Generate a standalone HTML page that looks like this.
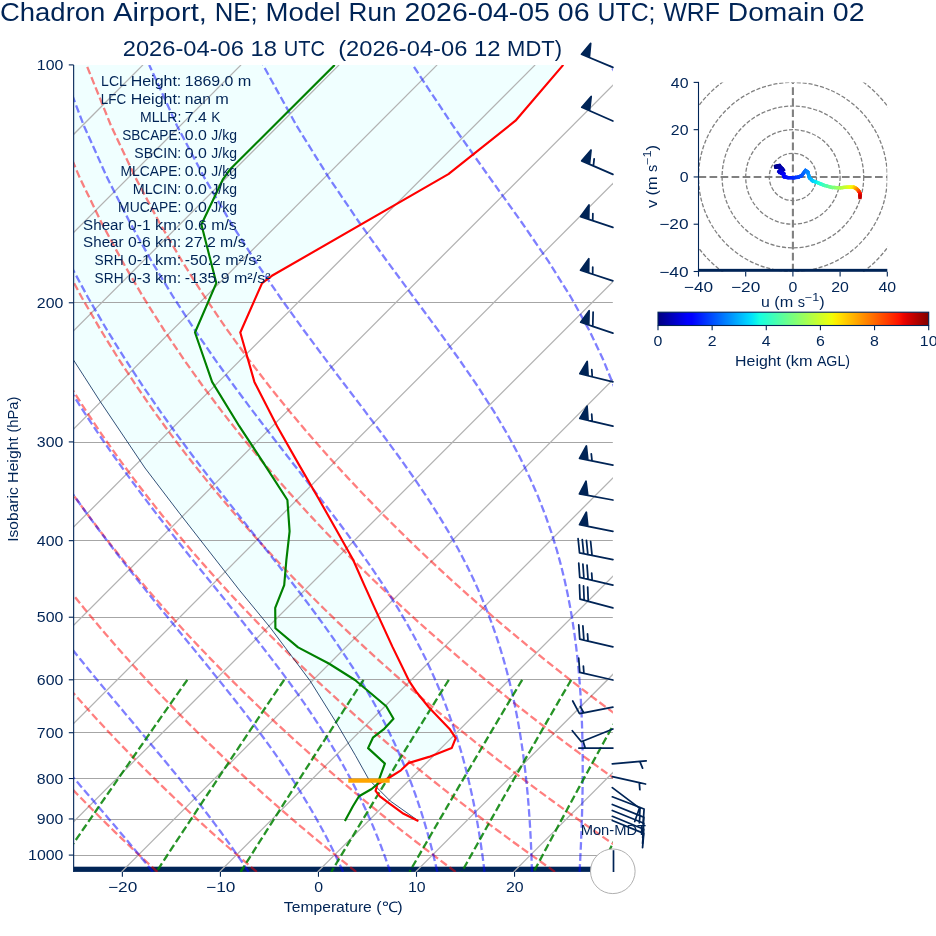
<!DOCTYPE html>
<html><head><meta charset="utf-8"><title>Skew-T</title>
<style>html,body{margin:0;padding:0;background:#fff}svg{display:block;will-change:transform}text{font-family:"Liberation Sans",sans-serif;white-space:pre}</style>
</head><body>
<svg width="936" height="936" viewBox="0 0 936 936">
<rect width="936" height="936" fill="#fff"/>
<defs><clipPath id="ax"><rect x="73.65" y="64.9" width="539.25" height="807.00"/></clipPath>
<clipPath id="hodo"><rect x="698.5" y="82.4" width="188.8" height="189.4"/></clipPath>
</defs>
<g clip-path="url(#ax)">
<path d="M73.65,64.90 L563.30,64.90 L515.50,120.70 L448.40,174.10 L271.90,275.80 L262.10,283.10 L240.30,332.50 L254.40,381.90 L277.10,426.20 L299.20,465.10 L319.40,500.00 L337.10,531.30 L353.10,559.70 L364.30,585.10 L374.60,607.90 L392.50,646.90 L409.00,680.80 L417.00,692.80 L429.00,707.50 L449.60,728.90 L455.70,738.20 L451.70,748.10 L429.00,756.90 L408.40,763.10 L400.90,770.30 L390.30,777.00 L377.40,784.20 L375.60,786.30 L368.90,779.60 L355.50,755.60 L336.80,723.50 L310.10,680.80 L270.10,627.40 L264.00,620.00 L239.30,590.00 L180.00,513.90 L145.00,468.00 L100.00,401.20 L84.60,377.20 L73.65,360.20Z" fill="#f0ffff"/>
<rect x="73.10000000000001" y="866.7" width="539.80" height="5.2" fill="#002456"/>
<line x1="73.65" x2="612.9" y1="302.50" y2="302.50" stroke="#a6a6a6" stroke-width="1"/>
<line x1="73.65" x2="612.9" y1="442.50" y2="442.50" stroke="#a6a6a6" stroke-width="1"/>
<line x1="73.65" x2="612.9" y1="540.50" y2="540.50" stroke="#a6a6a6" stroke-width="1"/>
<line x1="73.65" x2="612.9" y1="617.50" y2="617.50" stroke="#a6a6a6" stroke-width="1"/>
<line x1="73.65" x2="612.9" y1="679.50" y2="679.50" stroke="#a6a6a6" stroke-width="1"/>
<line x1="73.65" x2="612.9" y1="732.50" y2="732.50" stroke="#a6a6a6" stroke-width="1"/>
<line x1="73.65" x2="612.9" y1="778.50" y2="778.50" stroke="#a6a6a6" stroke-width="1"/>
<line x1="73.65" x2="612.9" y1="819.50" y2="819.50" stroke="#a6a6a6" stroke-width="1"/>
<line x1="73.65" x2="612.9" y1="855.50" y2="855.50" stroke="#a6a6a6" stroke-width="1"/>
<line x1="-957.03" y1="871.9" x2="-151.13" y2="64.9" stroke="#b2b2b2" stroke-width="1.25"/>
<line x1="-858.98" y1="871.9" x2="-53.08" y2="64.9" stroke="#b2b2b2" stroke-width="1.25"/>
<line x1="-760.94" y1="871.9" x2="44.96" y2="64.9" stroke="#b2b2b2" stroke-width="1.25"/>
<line x1="-662.89" y1="871.9" x2="143.01" y2="64.9" stroke="#b2b2b2" stroke-width="1.25"/>
<line x1="-564.85" y1="871.9" x2="241.05" y2="64.9" stroke="#b2b2b2" stroke-width="1.25"/>
<line x1="-466.80" y1="871.9" x2="339.10" y2="64.9" stroke="#b2b2b2" stroke-width="1.25"/>
<line x1="-368.75" y1="871.9" x2="437.15" y2="64.9" stroke="#b2b2b2" stroke-width="1.25"/>
<line x1="-270.71" y1="871.9" x2="535.19" y2="64.9" stroke="#b2b2b2" stroke-width="1.25"/>
<line x1="-172.66" y1="871.9" x2="633.24" y2="64.9" stroke="#b2b2b2" stroke-width="1.25"/>
<line x1="-74.62" y1="871.9" x2="731.28" y2="64.9" stroke="#b2b2b2" stroke-width="1.25"/>
<line x1="23.43" y1="871.9" x2="829.33" y2="64.9" stroke="#b2b2b2" stroke-width="1.25"/>
<line x1="121.47" y1="871.9" x2="927.37" y2="64.9" stroke="#b2b2b2" stroke-width="1.25"/>
<line x1="219.52" y1="871.9" x2="1025.42" y2="64.9" stroke="#b2b2b2" stroke-width="1.25"/>
<line x1="317.56" y1="871.9" x2="1123.46" y2="64.9" stroke="#b2b2b2" stroke-width="1.25"/>
<line x1="415.61" y1="871.9" x2="1221.51" y2="64.9" stroke="#b2b2b2" stroke-width="1.25"/>
<line x1="513.65" y1="871.9" x2="1319.55" y2="64.9" stroke="#b2b2b2" stroke-width="1.25"/>
<line x1="611.70" y1="871.9" x2="1417.60" y2="64.9" stroke="#b2b2b2" stroke-width="1.25"/>
<path d="M-41.47,871.84 L-47.40,865.45 L-53.37,858.93 L-59.40,852.29 L-65.46,845.51 L-71.58,838.60 L-77.75,831.55 L-83.96,824.35 L-90.23,816.99 L-96.55,809.47 L-102.92,801.79 L-109.34,793.93 L-115.82,785.88 L-122.35,777.65 L-128.94,769.20 L-135.59,760.55 L-142.29,751.67 L-149.05,742.56 L-155.88,733.20 L-162.76,723.57 L-169.70,713.67 L-176.71,703.47 L-183.78,692.96 L-190.91,682.12 L-198.11,670.93 L-205.37,659.35 L-212.69,647.38 L-220.07,634.97 L-227.52,622.09 L-235.03,608.72 L-242.60,594.80 L-250.23,580.29 L-257.91,565.14 L-265.64,549.29 L-273.41,532.68 L-281.22,515.22 L-289.05,496.82 L-296.89,477.38 L-304.73,456.77 L-312.54,434.85 L-320.29,411.42 L-327.93,386.29 L-335.43,359.16 L-342.69,329.70 L-349.62,297.48 L-356.07,261.92 L-361.82,222.23 L-366.56,177.36 L-369.76,125.71 L-370.59,64.90" fill="none" stroke="#ff0000" stroke-opacity="0.5" stroke-width="2.3" stroke-dasharray="7.7 3.33"/>
<path d="M57.96,871.84 L51.50,865.45 L44.99,858.93 L38.42,852.29 L31.80,845.51 L25.13,838.60 L18.39,831.55 L11.60,824.35 L4.75,816.99 L-2.16,809.47 L-9.13,801.79 L-16.16,793.93 L-23.26,785.88 L-30.43,777.65 L-37.66,769.20 L-44.96,760.55 L-52.33,751.67 L-59.78,742.56 L-67.29,733.20 L-74.88,723.57 L-82.55,713.67 L-90.29,703.47 L-98.11,692.96 L-106.02,682.12 L-114.00,670.93 L-122.06,659.35 L-130.21,647.38 L-138.45,634.97 L-146.77,622.09 L-155.17,608.72 L-163.66,594.80 L-172.23,580.29 L-180.89,565.14 L-189.63,549.29 L-198.45,532.68 L-207.34,515.22 L-216.29,496.82 L-225.30,477.38 L-234.36,456.77 L-243.44,434.85 L-252.52,411.42 L-261.57,386.29 L-270.55,359.16 L-279.38,329.70 L-287.99,297.48 L-296.24,261.92 L-303.93,222.23 L-310.79,177.36 L-316.34,125.71 L-319.81,64.90" fill="none" stroke="#ff0000" stroke-opacity="0.5" stroke-width="2.3" stroke-dasharray="7.7 3.33"/>
<path d="M157.38,871.84 L150.39,865.45 L143.34,858.93 L136.24,852.29 L129.07,845.51 L121.83,838.60 L114.54,831.55 L107.17,824.35 L99.74,816.99 L92.23,809.47 L84.66,801.79 L77.01,793.93 L69.29,785.88 L61.49,777.65 L53.62,769.20 L45.66,760.55 L37.62,751.67 L29.50,742.56 L21.29,733.20 L12.99,723.57 L4.61,713.67 L-3.87,703.47 L-12.45,692.96 L-21.12,682.12 L-29.89,670.93 L-38.76,659.35 L-47.74,647.38 L-56.82,634.97 L-66.01,622.09 L-75.31,608.72 L-84.72,594.80 L-94.24,580.29 L-103.87,565.14 L-113.62,549.29 L-123.48,532.68 L-133.45,515.22 L-143.53,496.82 L-153.71,477.38 L-163.98,456.77 L-174.34,434.85 L-184.76,411.42 L-195.21,386.29 L-205.67,359.16 L-216.07,329.70 L-226.36,297.48 L-236.40,261.92 L-246.04,222.23 L-255.02,177.36 L-262.92,125.71 L-269.03,64.90" fill="none" stroke="#ff0000" stroke-opacity="0.5" stroke-width="2.3" stroke-dasharray="7.7 3.33"/>
<path d="M256.80,871.84 L249.28,865.45 L241.70,858.93 L234.05,852.29 L226.33,845.51 L218.54,838.60 L210.68,831.55 L202.74,824.35 L194.72,816.99 L186.63,809.47 L178.45,801.79 L170.19,793.93 L161.85,785.88 L153.42,777.65 L144.90,769.20 L136.28,760.55 L127.58,751.67 L118.78,742.56 L109.87,733.20 L100.87,723.57 L91.76,713.67 L82.54,703.47 L73.22,692.96 L63.77,682.12 L54.22,670.93 L44.54,659.35 L34.74,647.38 L24.81,634.97 L14.75,622.09 L4.55,608.72 L-5.78,594.80 L-16.25,580.29 L-26.86,565.14 L-37.62,549.29 L-48.52,532.68 L-59.57,515.22 L-70.77,496.82 L-82.12,477.38 L-93.61,456.77 L-105.24,434.85 L-116.99,411.42 L-128.85,386.29 L-140.79,359.16 L-152.77,329.70 L-164.72,297.48 L-176.57,261.92 L-188.15,222.23 L-199.26,177.36 L-209.50,125.71 L-218.25,64.90" fill="none" stroke="#ff0000" stroke-opacity="0.5" stroke-width="2.3" stroke-dasharray="7.7 3.33"/>
<path d="M356.22,871.84 L348.18,865.45 L340.06,858.93 L331.87,852.29 L323.60,845.51 L315.25,838.60 L306.82,831.55 L298.30,824.35 L289.70,816.99 L281.02,809.47 L272.24,801.79 L263.37,793.93 L254.40,785.88 L245.34,777.65 L236.17,769.20 L226.91,760.55 L217.53,751.67 L208.05,742.56 L198.46,733.20 L188.75,723.57 L178.91,713.67 L168.96,703.47 L158.88,692.96 L148.67,682.12 L138.32,670.93 L127.84,659.35 L117.21,647.38 L106.43,634.97 L95.50,622.09 L84.42,608.72 L73.17,594.80 L61.75,580.29 L50.16,565.14 L38.39,549.29 L26.44,532.68 L14.31,515.22 L1.98,496.82 L-10.53,477.38 L-23.24,456.77 L-36.14,434.85 L-49.23,411.42 L-62.49,386.29 L-75.91,359.16 L-89.46,329.70 L-103.09,297.48 L-116.73,261.92 L-130.27,222.23 L-143.49,177.36 L-156.08,125.71 L-167.46,64.90" fill="none" stroke="#ff0000" stroke-opacity="0.5" stroke-width="2.3" stroke-dasharray="7.7 3.33"/>
<path d="M455.64,871.84 L447.07,865.45 L438.42,858.93 L429.69,852.29 L420.86,845.51 L411.96,838.60 L402.96,831.55 L393.87,824.35 L384.69,816.99 L375.41,809.47 L366.03,801.79 L356.54,793.93 L346.96,785.88 L337.26,777.65 L327.45,769.20 L317.53,760.55 L307.49,751.67 L297.33,742.56 L287.04,733.20 L276.62,723.57 L266.07,713.67 L255.38,703.47 L244.55,692.96 L233.57,682.12 L222.43,670.93 L211.14,659.35 L199.68,647.38 L188.06,634.97 L176.26,622.09 L164.28,608.72 L152.11,594.80 L139.74,580.29 L127.18,565.14 L114.40,549.29 L101.41,532.68 L88.19,515.22 L74.74,496.82 L61.06,477.38 L47.13,456.77 L32.96,434.85 L18.54,411.42 L3.87,386.29 L-11.03,359.16 L-26.15,329.70 L-41.46,297.48 L-56.90,261.92 L-72.38,222.23 L-87.72,177.36 L-102.66,125.71 L-116.68,64.90" fill="none" stroke="#ff0000" stroke-opacity="0.5" stroke-width="2.3" stroke-dasharray="7.7 3.33"/>
<path d="M555.06,871.84 L545.97,865.45 L536.78,858.93 L527.50,852.29 L518.13,845.51 L508.67,838.60 L499.10,831.55 L489.44,824.35 L479.67,816.99 L469.80,809.47 L459.82,801.79 L449.72,793.93 L439.51,785.88 L429.18,777.65 L418.73,769.20 L408.15,760.55 L397.45,751.67 L386.60,742.56 L375.62,733.20 L364.50,723.57 L353.22,713.67 L341.80,703.47 L330.21,692.96 L318.46,682.12 L306.54,670.93 L294.44,659.35 L282.16,647.38 L269.69,634.97 L257.02,622.09 L244.14,608.72 L231.05,594.80 L217.74,580.29 L204.19,565.14 L190.41,549.29 L176.37,532.68 L162.07,515.22 L147.50,496.82 L132.65,477.38 L117.50,456.77 L102.06,434.85 L86.30,411.42 L70.24,386.29 L53.85,359.16 L37.16,329.70 L20.17,297.48 L2.93,261.92 L-14.49,222.23 L-31.96,177.36 L-49.24,125.71 L-65.90,64.90" fill="none" stroke="#ff0000" stroke-opacity="0.5" stroke-width="2.3" stroke-dasharray="7.7 3.33"/>
<path d="M654.49,871.84 L644.86,865.45 L635.14,858.93 L625.32,852.29 L615.40,845.51 L605.37,838.60 L595.24,831.55 L585.01,824.35 L574.65,816.99 L564.19,809.47 L553.61,801.79 L542.90,793.93 L532.07,785.88 L521.11,777.65 L510.01,769.20 L498.78,760.55 L487.40,751.67 L475.88,742.56 L464.21,733.20 L452.37,723.57 L440.38,713.67 L428.21,703.47 L415.88,692.96 L403.36,682.12 L390.65,670.93 L377.74,659.35 L364.63,647.38 L351.31,634.97 L337.77,622.09 L324.00,608.72 L309.99,594.80 L295.73,580.29 L281.21,565.14 L266.41,549.29 L251.33,532.68 L235.95,515.22 L220.26,496.82 L204.24,477.38 L187.88,456.77 L171.16,434.85 L154.07,411.42 L136.60,386.29 L118.73,359.16 L100.47,329.70 L81.80,297.48 L62.77,261.92 L43.40,222.23 L23.81,177.36 L4.18,125.71 L-15.12,64.90" fill="none" stroke="#ff0000" stroke-opacity="0.5" stroke-width="2.3" stroke-dasharray="7.7 3.33"/>
<path d="M753.91,871.84 L743.75,865.45 L733.50,858.93 L723.13,852.29 L712.66,845.51 L702.08,838.60 L691.39,831.55 L680.57,824.35 L669.64,816.99 L658.58,809.47 L647.39,801.79 L636.08,793.93 L624.62,785.88 L613.03,777.65 L601.29,769.20 L589.40,760.55 L577.36,751.67 L565.16,742.56 L552.79,733.20 L540.25,723.57 L527.53,713.67 L514.63,703.47 L501.54,692.96 L488.25,682.12 L474.75,670.93 L461.04,659.35 L447.11,647.38 L432.94,634.97 L418.53,622.09 L403.87,608.72 L388.94,594.80 L373.73,580.29 L358.23,565.14 L342.42,549.29 L326.30,532.68 L309.83,515.22 L293.02,496.82 L275.83,477.38 L258.25,456.77 L240.26,434.85 L221.83,411.42 L202.96,386.29 L183.61,359.16 L163.77,329.70 L143.44,297.48 L122.60,261.92 L101.29,222.23 L79.58,177.36 L57.59,125.71 L35.67,64.90" fill="none" stroke="#ff0000" stroke-opacity="0.5" stroke-width="2.3" stroke-dasharray="7.7 3.33"/>
<path d="M853.33,871.84 L842.65,865.45 L831.85,858.93 L820.95,852.29 L809.93,845.51 L798.79,838.60 L787.53,831.55 L776.14,824.35 L764.62,816.99 L752.97,809.47 L741.18,801.79 L729.25,793.93 L717.18,785.88 L704.95,777.65 L692.57,769.20 L680.03,760.55 L667.32,751.67 L654.43,742.56 L641.37,733.20 L628.13,723.57 L614.69,713.67 L601.05,703.47 L587.21,692.96 L573.15,682.12 L558.86,670.93 L544.34,659.35 L529.58,647.38 L514.57,634.97 L499.29,622.09 L483.73,608.72 L467.88,594.80 L451.72,580.29 L435.24,565.14 L418.43,549.29 L401.26,532.68 L383.72,515.22 L365.78,496.82 L347.42,477.38 L328.62,456.77 L309.36,434.85 L289.60,411.42 L269.32,386.29 L248.49,359.16 L227.08,329.70 L205.07,297.48 L182.44,261.92 L159.18,222.23 L135.34,177.36 L111.01,125.71 L86.45,64.90" fill="none" stroke="#ff0000" stroke-opacity="0.5" stroke-width="2.3" stroke-dasharray="7.7 3.33"/>
<path d="M-42.35,871.84 L-47.91,865.45 L-53.55,858.93 L-59.27,852.29 L-65.06,845.51 L-70.92,838.60 L-76.85,831.55 L-82.86,824.35 L-88.94,816.99 L-95.09,809.47 L-101.31,801.79 L-107.60,793.93 L-113.96,785.88 L-120.39,777.65 L-126.90,769.20 L-133.47,760.55 L-140.11,751.67 L-146.83,742.56 L-153.61,733.20 L-160.46,723.57 L-167.38,713.67 L-174.37,703.47 L-181.43,692.96 L-188.56,682.12 L-195.76,670.93 L-203.02,659.35 L-210.36,647.38 L-217.76,634.97 L-225.22,622.09 L-232.75,608.72 L-240.34,594.80 L-247.99,580.29 L-255.69,565.14 L-263.45,549.29 L-271.25,532.68 L-279.09,515.22 L-286.95,496.82 L-294.83,477.38 L-302.70,456.77 L-310.55,434.85 L-318.33,411.42 L-326.02,386.29 L-333.56,359.16 L-340.87,329.70 L-347.84,297.48 L-354.35,261.92 L-360.15,222.23 L-364.95,177.36 L-368.22,125.71 L-369.13,64.90" fill="none" stroke="#0000ff" stroke-opacity="0.5" stroke-width="2.3" stroke-dasharray="7.7 3.33"/>
<path d="M55.83,871.84 L50.24,865.45 L44.54,858.93 L38.73,852.29 L32.81,845.51 L26.79,838.60 L20.65,831.55 L14.40,824.35 L8.05,816.99 L1.59,809.47 L-4.98,801.79 L-11.65,793.93 L-18.43,785.88 L-25.31,777.65 L-32.30,769.20 L-39.38,760.55 L-46.57,751.67 L-53.86,742.56 L-61.25,733.20 L-68.73,723.57 L-76.32,713.67 L-84.00,703.47 L-91.78,692.96 L-99.66,682.12 L-107.63,670.93 L-115.71,659.35 L-123.87,647.38 L-132.13,634.97 L-140.49,622.09 L-148.94,608.72 L-157.48,594.80 L-166.11,580.29 L-174.84,565.14 L-183.65,549.29 L-192.54,532.68 L-201.51,515.22 L-210.55,496.82 L-219.65,477.38 L-228.80,456.77 L-237.98,434.85 L-247.17,411.42 L-256.33,386.29 L-265.42,359.16 L-274.38,329.70 L-283.12,297.48 L-291.51,261.92 L-299.36,222.23 L-306.39,177.36 L-312.13,125.71 L-315.80,64.90" fill="none" stroke="#0000ff" stroke-opacity="0.5" stroke-width="2.3" stroke-dasharray="7.7 3.33"/>
<path d="M152.88,871.84 L147.71,865.45 L142.39,858.93 L136.91,852.29 L131.29,845.51 L125.50,838.60 L119.56,831.55 L113.46,824.35 L107.20,816.99 L100.78,809.47 L94.21,801.79 L87.47,793.93 L80.57,785.88 L73.51,777.65 L66.30,769.20 L58.93,760.55 L51.40,751.67 L43.72,742.56 L35.89,733.20 L27.91,723.57 L19.78,713.67 L11.51,703.47 L3.09,692.96 L-5.47,682.12 L-14.18,670.93 L-23.02,659.35 L-32.00,647.38 L-41.12,634.97 L-50.37,622.09 L-59.76,608.72 L-69.29,594.80 L-78.94,580.29 L-88.73,565.14 L-98.64,549.29 L-108.69,532.68 L-118.86,515.22 L-129.14,496.82 L-139.55,477.38 L-150.06,456.77 L-160.66,434.85 L-171.34,411.42 L-182.07,386.29 L-192.82,359.16 L-203.54,329.70 L-214.15,297.48 L-224.55,261.92 L-234.58,222.23 L-243.98,177.36 L-252.34,125.71 L-258.97,64.90" fill="none" stroke="#0000ff" stroke-opacity="0.5" stroke-width="2.3" stroke-dasharray="7.7 3.33"/>
<path d="M248.54,871.84 L244.31,865.45 L239.91,858.93 L235.33,852.29 L230.58,845.51 L225.63,838.60 L220.49,831.55 L215.14,824.35 L209.59,816.99 L203.83,809.47 L197.85,801.79 L191.65,793.93 L185.22,785.88 L178.57,777.65 L171.67,769.20 L164.55,760.55 L157.18,751.67 L149.58,742.56 L141.74,733.20 L133.66,723.57 L125.35,713.67 L116.80,703.47 L108.02,692.96 L99.01,682.12 L89.77,670.93 L80.32,659.35 L70.64,647.38 L60.75,634.97 L50.65,622.09 L40.34,608.72 L29.83,594.80 L19.12,580.29 L8.21,565.14 L-2.89,549.29 L-14.18,532.68 L-25.66,515.22 L-37.33,496.82 L-49.18,477.38 L-61.21,456.77 L-73.41,434.85 L-85.76,411.42 L-98.26,386.29 L-110.88,359.16 L-123.58,329.70 L-136.31,297.48 L-148.98,261.92 L-161.47,222.23 L-173.55,177.36 L-184.88,125.71 L-194.83,64.90" fill="none" stroke="#0000ff" stroke-opacity="0.5" stroke-width="2.3" stroke-dasharray="7.7 3.33"/>
<path d="M343.09,871.84 L340.19,865.45 L337.16,858.93 L333.96,852.29 L330.61,845.51 L327.08,838.60 L323.37,831.55 L319.47,824.35 L315.36,816.99 L311.03,809.47 L306.47,801.79 L301.67,793.93 L296.62,785.88 L291.29,777.65 L285.69,769.20 L279.79,760.55 L273.58,751.67 L267.06,742.56 L260.20,733.20 L252.99,723.57 L245.44,713.67 L237.52,703.47 L229.23,692.96 L220.57,682.12 L211.53,670.93 L202.11,659.35 L192.32,647.38 L182.15,634.97 L171.60,622.09 L160.70,608.72 L149.44,594.80 L137.82,580.29 L125.87,565.14 L113.59,549.29 L100.99,532.68 L88.07,515.22 L74.84,496.82 L61.32,477.38 L47.51,456.77 L33.41,434.85 L19.03,411.42 L4.39,386.29 L-10.50,359.16 L-25.62,329.70 L-40.94,297.48 L-56.39,261.92 L-71.88,222.23 L-87.25,177.36 L-102.21,125.71 L-116.25,64.90" fill="none" stroke="#0000ff" stroke-opacity="0.5" stroke-width="2.3" stroke-dasharray="7.7 3.33"/>
<path d="M390.17,871.84 L388.01,865.45 L385.73,858.93 L383.32,852.29 L380.77,845.51 L378.08,838.60 L375.24,831.55 L372.22,824.35 L369.03,816.99 L365.65,809.47 L362.06,801.79 L358.25,793.93 L354.21,785.88 L349.92,777.65 L345.36,769.20 L340.51,760.55 L335.36,751.67 L329.89,742.56 L324.07,733.20 L317.88,723.57 L311.32,713.67 L304.34,703.47 L296.95,692.96 L289.11,682.12 L280.81,670.93 L272.04,659.35 L262.79,647.38 L253.04,634.97 L242.80,622.09 L232.07,608.72 L220.83,594.80 L209.11,580.29 L196.91,565.14 L184.23,549.29 L171.11,532.68 L157.54,515.22 L143.55,496.82 L129.15,477.38 L114.34,456.77 L99.16,434.85 L83.60,411.42 L67.67,386.29 L51.40,359.16 L34.80,329.70 L17.90,297.48 L0.73,261.92 L-16.61,222.23 L-34.00,177.36 L-51.20,125.71 L-67.76,64.90" fill="none" stroke="#0000ff" stroke-opacity="0.5" stroke-width="2.3" stroke-dasharray="7.7 3.33"/>
<path d="M437.29,871.84 L435.84,865.45 L434.31,858.93 L432.67,852.29 L430.94,845.51 L429.09,838.60 L427.13,831.55 L425.03,824.35 L422.80,816.99 L420.41,809.47 L417.87,801.79 L415.14,793.93 L412.22,785.88 L409.10,777.65 L405.75,769.20 L402.16,760.55 L398.31,751.67 L394.17,742.56 L389.71,733.20 L384.92,723.57 L379.77,713.67 L374.22,703.47 L368.25,692.96 L361.82,682.12 L354.90,670.93 L347.46,659.35 L339.46,647.38 L330.88,634.97 L321.68,622.09 L311.84,608.72 L301.34,594.80 L290.17,580.29 L278.32,565.14 L265.79,549.29 L252.58,532.68 L238.72,515.22 L224.21,496.82 L209.09,477.38 L193.37,456.77 L177.09,434.85 L160.27,411.42 L142.92,386.29 L125.08,359.16 L106.76,329.70 L87.99,297.48 L68.81,261.92 L49.26,222.23 L29.45,177.36 L9.59,125.71 L-9.97,64.90" fill="none" stroke="#0000ff" stroke-opacity="0.5" stroke-width="2.3" stroke-dasharray="7.7 3.33"/>
<path d="M484.52,871.84 L483.74,865.45 L482.91,858.93 L482.01,852.29 L481.04,845.51 L479.99,838.60 L478.87,831.55 L477.65,824.35 L476.34,816.99 L474.93,809.47 L473.40,801.79 L471.74,793.93 L469.95,785.88 L468.01,777.65 L465.91,769.20 L463.62,760.55 L461.14,751.67 L458.45,742.56 L455.51,733.20 L452.31,723.57 L448.82,713.67 L445.01,703.47 L440.85,692.96 L436.29,682.12 L431.30,670.93 L425.84,659.35 L419.84,647.38 L413.27,634.97 L406.07,622.09 L398.17,608.72 L389.52,594.80 L380.06,580.29 L369.74,565.14 L358.51,549.29 L346.33,532.68 L333.18,515.22 L319.04,496.82 L303.93,477.38 L287.85,456.77 L270.86,434.85 L252.97,411.42 L234.26,386.29 L214.75,359.16 L194.51,329.70 L173.57,297.48 L151.97,261.92 L129.76,222.23 L107.02,177.36 L83.89,125.71 L60.67,64.90" fill="none" stroke="#0000ff" stroke-opacity="0.5" stroke-width="2.3" stroke-dasharray="7.7 3.33"/>
<path d="M531.94,871.84 L531.76,865.45 L531.56,858.93 L531.31,852.29 L531.03,845.51 L530.70,838.60 L530.33,831.55 L529.91,824.35 L529.43,816.99 L528.89,809.47 L528.29,801.79 L527.61,793.93 L526.84,785.88 L525.99,777.65 L525.04,769.20 L523.98,760.55 L522.79,751.67 L521.47,742.56 L519.99,733.20 L518.34,723.57 L516.51,713.67 L514.46,703.47 L512.17,692.96 L509.60,682.12 L506.74,670.93 L503.52,659.35 L499.92,647.38 L495.87,634.97 L491.33,622.09 L486.20,608.72 L480.43,594.80 L473.93,580.29 L466.59,565.14 L458.31,549.29 L448.98,532.68 L438.48,515.22 L426.70,496.82 L413.54,477.38 L398.91,456.77 L382.77,434.85 L365.11,411.42 L345.95,386.29 L325.35,359.16 L303.41,329.70 L280.22,297.48 L255.90,261.92 L230.52,222.23 L204.19,177.36 L177.01,125.71 L149.20,64.90" fill="none" stroke="#0000ff" stroke-opacity="0.5" stroke-width="2.3" stroke-dasharray="7.7 3.33"/>
<path d="M579.58,871.84 L579.92,865.45 L580.25,858.93 L580.57,852.29 L580.88,845.51 L581.17,838.60 L581.45,831.55 L581.71,824.35 L581.94,816.99 L582.15,809.47 L582.34,801.79 L582.49,793.93 L582.61,785.88 L582.68,777.65 L582.71,769.20 L582.70,760.55 L582.62,751.67 L582.48,742.56 L582.26,733.20 L581.96,723.57 L581.56,713.67 L581.05,703.47 L580.42,692.96 L579.64,682.12 L578.70,670.93 L577.57,659.35 L576.21,647.38 L574.60,634.97 L572.69,622.09 L570.44,608.72 L567.78,594.80 L564.65,580.29 L560.95,565.14 L556.59,549.29 L551.44,532.68 L545.36,515.22 L538.17,496.82 L529.67,477.38 L519.63,456.77 L507.79,434.85 L493.88,411.42 L477.68,386.29 L458.98,359.16 L437.69,329.70 L413.84,297.48 L387.57,261.92 L359.11,222.23 L328.69,177.36 L296.56,125.71 L262.96,64.90" fill="none" stroke="#0000ff" stroke-opacity="0.5" stroke-width="2.3" stroke-dasharray="7.7 3.33"/>
<path d="M627.45,871.84 L628.23,865.45 L629.01,858.93 L629.80,852.29 L630.59,845.51 L631.40,838.60 L632.21,831.55 L633.02,824.35 L633.84,816.99 L634.67,809.47 L635.49,801.79 L636.32,793.93 L637.15,785.88 L637.98,777.65 L638.81,769.20 L639.63,760.55 L640.45,751.67 L641.26,742.56 L642.05,733.20 L642.82,723.57 L643.57,713.67 L644.29,703.47 L644.98,692.96 L645.63,682.12 L646.22,670.93 L646.75,659.35 L647.20,647.38 L647.56,634.97 L647.80,622.09 L647.90,608.72 L647.84,594.80 L647.57,580.29 L647.05,565.14 L646.22,549.29 L645.02,532.68 L643.34,515.22 L641.08,496.82 L638.09,477.38 L634.16,456.77 L629.06,434.85 L622.46,411.42 L613.95,386.29 L602.98,359.16 L588.93,329.70 L571.09,297.48 L548.79,261.92 L521.59,222.23 L489.49,177.36 L452.94,125.71 L412.64,64.90" fill="none" stroke="#0000ff" stroke-opacity="0.5" stroke-width="2.3" stroke-dasharray="7.7 3.33"/>
<path d="M675.55,871.84 L676.67,865.45 L677.81,858.93 L678.98,852.29 L680.17,845.51 L681.38,838.60 L682.62,831.55 L683.88,824.35 L685.16,816.99 L686.47,809.47 L687.81,801.79 L689.17,793.93 L690.56,785.88 L691.97,777.65 L693.42,769.20 L694.89,760.55 L696.39,751.67 L697.93,742.56 L699.49,733.20 L701.08,723.57 L702.70,713.67 L704.35,703.47 L706.03,692.96 L707.73,682.12 L709.46,670.93 L711.22,659.35 L713.00,647.38 L714.80,634.97 L716.61,622.09 L718.42,608.72 L720.24,594.80 L722.04,580.29 L723.82,565.14 L725.56,549.29 L727.23,532.68 L728.79,515.22 L730.22,496.82 L731.44,477.38 L732.38,456.77 L732.94,434.85 L732.96,411.42 L732.22,386.29 L730.43,359.16 L727.12,329.70 L721.62,297.48 L712.94,261.92 L699.56,222.23 L679.43,177.36 L650.13,125.71 L609.97,64.90" fill="none" stroke="#0000ff" stroke-opacity="0.5" stroke-width="2.3" stroke-dasharray="7.7 3.33"/>
<path d="M723.84,871.84 L725.24,865.45 L726.67,858.93 L728.13,852.29 L729.62,845.51 L731.15,838.60 L732.72,831.55 L734.32,824.35 L735.96,816.99 L737.64,809.47 L739.37,801.79 L741.13,793.93 L742.95,785.88 L744.81,777.65 L746.72,769.20 L748.68,760.55 L750.69,751.67 L752.76,742.56 L754.89,733.20 L757.08,723.57 L759.34,713.67 L761.66,703.47 L764.06,692.96 L766.53,682.12 L769.07,670.93 L771.70,659.35 L774.41,647.38 L777.22,634.97 L780.12,622.09 L783.11,608.72 L786.21,594.80 L789.42,580.29 L792.74,565.14 L796.18,549.29 L799.73,532.68 L803.41,515.22 L807.22,496.82 L811.14,477.38 L815.18,456.77 L819.32,434.85 L823.54,411.42 L827.80,386.29 L832.03,359.16 L836.11,329.70 L839.87,297.48 L842.97,261.92 L844.84,222.23 L844.44,177.36 L839.75,125.71 L826.75,64.90" fill="none" stroke="#0000ff" stroke-opacity="0.5" stroke-width="2.3" stroke-dasharray="7.7 3.33"/>
<path d="M772.31,871.84 L773.92,865.45 L775.56,858.93 L777.25,852.29 L778.97,845.51 L780.74,838.60 L782.55,831.55 L784.41,824.35 L786.32,816.99 L788.28,809.47 L790.29,801.79 L792.36,793.93 L794.48,785.88 L796.67,777.65 L798.92,769.20 L801.23,760.55 L803.62,751.67 L806.08,742.56 L808.62,733.20 L811.24,723.57 L813.95,713.67 L816.75,703.47 L819.65,692.96 L822.66,682.12 L825.77,670.93 L829.00,659.35 L832.36,647.38 L835.85,634.97 L839.48,622.09 L843.27,608.72 L847.23,594.80 L851.36,580.29 L855.69,565.14 L860.22,549.29 L864.99,532.68 L870.00,515.22 L875.28,496.82 L880.86,477.38 L886.77,456.77 L893.04,434.85 L899.71,411.42 L906.81,386.29 L914.41,359.16 L922.54,329.70 L931.27,297.48 L940.64,261.92 L950.67,222.23 L961.34,177.36 L972.43,125.71 L983.30,64.90" fill="none" stroke="#0000ff" stroke-opacity="0.5" stroke-width="2.3" stroke-dasharray="7.7 3.33"/>
<path d="M820.93,871.84 L822.69,865.45 L824.49,858.93 L826.34,852.29 L828.23,845.51 L830.17,838.60 L832.17,831.55 L834.21,824.35 L836.31,816.99 L838.47,809.47 L840.69,801.79 L842.97,793.93 L845.31,785.88 L847.73,777.65 L850.22,769.20 L852.79,760.55 L855.44,751.67 L858.17,742.56 L861.00,733.20 L863.92,723.57 L866.94,713.67 L870.07,703.47 L873.32,692.96 L876.68,682.12 L880.18,670.93 L883.82,659.35 L887.61,647.38 L891.56,634.97 L895.69,622.09 L900.00,608.72 L904.51,594.80 L909.25,580.29 L914.23,565.14 L919.47,549.29 L924.99,532.68 L930.84,515.22 L937.04,496.82 L943.63,477.38 L950.67,456.77 L958.19,434.85 L966.28,411.42 L975.02,386.29 L984.49,359.16 L994.83,329.70 L1006.18,297.48 L1018.74,261.92 L1032.78,222.23 L1048.62,177.36 L1066.73,125.71 L1087.75,64.90" fill="none" stroke="#0000ff" stroke-opacity="0.5" stroke-width="2.3" stroke-dasharray="7.7 3.33"/>
<path d="M187.34,679.80 L183.68,685.01 L180.07,690.14 L176.52,695.20 L173.02,700.19 L169.58,705.10 L166.18,709.95 L162.84,714.72 L159.54,719.44 L156.29,724.08 L153.08,728.67 L149.92,733.20 L146.80,737.66 L143.72,742.07 L140.69,746.43 L137.69,750.72 L134.73,754.97 L131.81,759.16 L128.93,763.31 L126.08,767.40 L123.27,771.45 L120.49,775.44 L117.74,779.40 L115.03,783.30 L112.35,787.17 L109.70,790.99 L107.08,794.76 L104.49,798.50 L101.93,802.20 L99.40,805.86 L96.89,809.47 L94.42,813.06 L91.97,816.60 L89.54,820.11 L87.14,823.58 L84.77,827.02 L82.42,830.42 L80.10,833.79 L77.80,837.13 L75.52,840.43 L73.26,843.71 L71.03,846.95 L68.82,850.16 L66.63,853.34 L64.46,856.50 L62.31,859.62 L60.18,862.72 L58.08,865.79 L55.99,868.83 L53.92,871.84" fill="none" stroke="#008000" stroke-opacity="0.85" stroke-width="2.3" stroke-dasharray="7.7 3.33"/>
<path d="M284.17,679.80 L280.65,685.01 L277.19,690.14 L273.78,695.20 L270.43,700.19 L267.12,705.10 L263.86,709.95 L260.66,714.72 L257.49,719.44 L254.38,724.08 L251.30,728.67 L248.27,733.20 L245.28,737.66 L242.33,742.07 L239.42,746.43 L236.55,750.72 L233.71,754.97 L230.92,759.16 L228.15,763.31 L225.43,767.40 L222.73,771.45 L220.07,775.44 L217.44,779.40 L214.84,783.30 L212.28,787.17 L209.74,790.99 L207.23,794.76 L204.76,798.50 L202.31,802.20 L199.88,805.86 L197.49,809.47 L195.12,813.06 L192.77,816.60 L190.45,820.11 L188.16,823.58 L185.89,827.02 L183.64,830.42 L181.42,833.79 L179.22,837.13 L177.04,840.43 L174.89,843.71 L172.75,846.95 L170.64,850.16 L168.55,853.34 L166.48,856.50 L164.42,859.62 L162.39,862.72 L160.38,865.79 L158.38,868.83 L156.40,871.84" fill="none" stroke="#008000" stroke-opacity="0.85" stroke-width="2.3" stroke-dasharray="7.7 3.33"/>
<path d="M363.56,679.80 L360.17,685.01 L356.83,690.14 L353.55,695.20 L350.31,700.19 L347.13,705.10 L343.99,709.95 L340.90,714.72 L337.85,719.44 L334.85,724.08 L331.89,728.67 L328.97,733.20 L326.09,737.66 L323.25,742.07 L320.45,746.43 L317.68,750.72 L314.96,754.97 L312.26,759.16 L309.60,763.31 L306.98,767.40 L304.39,771.45 L301.83,775.44 L299.30,779.40 L296.80,783.30 L294.33,787.17 L291.89,790.99 L289.48,794.76 L287.10,798.50 L284.74,802.20 L282.41,805.86 L280.11,809.47 L277.83,813.06 L275.58,816.60 L273.35,820.11 L271.14,823.58 L268.96,827.02 L266.80,830.42 L264.67,833.79 L262.55,837.13 L260.46,840.43 L258.39,843.71 L256.34,846.95 L254.31,850.16 L252.30,853.34 L250.31,856.50 L248.34,859.62 L246.39,862.72 L244.46,865.79 L242.54,868.83 L240.65,871.84" fill="none" stroke="#008000" stroke-opacity="0.85" stroke-width="2.3" stroke-dasharray="7.7 3.33"/>
<path d="M448.80,679.80 L445.55,685.01 L442.36,690.14 L439.21,695.20 L436.11,700.19 L433.06,705.10 L430.05,709.95 L427.09,714.72 L424.17,719.44 L421.30,724.08 L418.46,728.67 L415.67,733.20 L412.91,737.66 L410.19,742.07 L407.51,746.43 L404.87,750.72 L402.26,754.97 L399.68,759.16 L397.14,763.31 L394.63,767.40 L392.15,771.45 L389.70,775.44 L387.28,779.40 L384.90,783.30 L382.54,787.17 L380.20,790.99 L377.90,794.76 L375.62,798.50 L373.37,802.20 L371.15,805.86 L368.95,809.47 L366.77,813.06 L364.62,816.60 L362.49,820.11 L360.39,823.58 L358.31,827.02 L356.25,830.42 L354.21,833.79 L352.19,837.13 L350.20,840.43 L348.22,843.71 L346.27,846.95 L344.33,850.16 L342.41,853.34 L340.52,856.50 L338.64,859.62 L336.78,862.72 L334.93,865.79 L333.11,868.83 L331.30,871.84" fill="none" stroke="#008000" stroke-opacity="0.85" stroke-width="2.3" stroke-dasharray="7.7 3.33"/>
<path d="M522.21,679.80 L519.08,685.01 L516.01,690.14 L512.98,695.20 L510.00,700.19 L507.07,705.10 L504.18,709.95 L501.34,714.72 L498.54,719.44 L495.77,724.08 L493.05,728.67 L490.37,733.20 L487.72,737.66 L485.11,742.07 L482.54,746.43 L480.00,750.72 L477.50,754.97 L475.02,759.16 L472.59,763.31 L470.18,767.40 L467.80,771.45 L465.45,775.44 L463.13,779.40 L460.84,783.30 L458.58,787.17 L456.35,790.99 L454.14,794.76 L451.96,798.50 L449.80,802.20 L447.67,805.86 L445.56,809.47 L443.48,813.06 L441.42,816.60 L439.38,820.11 L437.36,823.58 L435.37,827.02 L433.40,830.42 L431.45,833.79 L429.52,837.13 L427.61,840.43 L425.72,843.71 L423.84,846.95 L421.99,850.16 L420.16,853.34 L418.34,856.50 L416.55,859.62 L414.77,862.72 L413.00,865.79 L411.26,868.83 L409.53,871.84" fill="none" stroke="#008000" stroke-opacity="0.85" stroke-width="2.3" stroke-dasharray="7.7 3.33"/>
<path d="M571.22,679.80 L568.18,685.01 L565.19,690.14 L562.25,695.20 L559.35,700.19 L556.50,705.10 L553.69,709.95 L550.93,714.72 L548.20,719.44 L545.52,724.08 L542.87,728.67 L540.27,733.20 L537.70,737.66 L535.16,742.07 L532.66,746.43 L530.20,750.72 L527.76,754.97 L525.36,759.16 L522.99,763.31 L520.66,767.40 L518.35,771.45 L516.07,775.44 L513.82,779.40 L511.60,783.30 L509.40,787.17 L507.23,790.99 L505.09,794.76 L502.97,798.50 L500.88,802.20 L498.81,805.86 L496.77,809.47 L494.75,813.06 L492.75,816.60 L490.77,820.11 L488.82,823.58 L486.89,827.02 L484.98,830.42 L483.08,833.79 L481.21,837.13 L479.36,840.43 L477.53,843.71 L475.72,846.95 L473.92,850.16 L472.15,853.34 L470.39,856.50 L468.65,859.62 L466.92,862.72 L465.21,865.79 L463.52,868.83 L461.85,871.84" fill="none" stroke="#008000" stroke-opacity="0.85" stroke-width="2.3" stroke-dasharray="7.7 3.33"/>
<path d="M638.46,679.80 L635.54,685.01 L632.67,690.14 L629.85,695.20 L627.07,700.19 L624.33,705.10 L621.64,709.95 L618.98,714.72 L616.37,719.44 L613.80,724.08 L611.26,728.67 L608.76,733.20 L606.29,737.66 L603.87,742.07 L601.47,746.43 L599.11,750.72 L596.78,754.97 L594.48,759.16 L592.21,763.31 L589.97,767.40 L587.76,771.45 L585.58,775.44 L583.42,779.40 L581.29,783.30 L579.19,787.17 L577.12,790.99 L575.07,794.76 L573.04,798.50 L571.04,802.20 L569.06,805.86 L567.11,809.47 L565.17,813.06 L563.26,816.60 L561.38,820.11 L559.51,823.58 L557.66,827.02 L555.83,830.42 L554.03,833.79 L552.24,837.13 L550.47,840.43 L548.72,843.71 L546.99,846.95 L545.27,850.16 L543.58,853.34 L541.90,856.50 L540.24,859.62 L538.59,862.72 L536.96,865.79 L535.35,868.83 L533.75,871.84" fill="none" stroke="#008000" stroke-opacity="0.85" stroke-width="2.3" stroke-dasharray="7.7 3.33"/>
<path d="M698.84,679.80 L696.03,685.01 L693.27,690.14 L690.55,695.20 L687.88,700.19 L685.25,705.10 L682.66,709.95 L680.11,714.72 L677.59,719.44 L675.12,724.08 L672.68,728.67 L670.28,733.20 L667.92,737.66 L665.58,742.07 L663.28,746.43 L661.01,750.72 L658.78,754.97 L656.57,759.16 L654.39,763.31 L652.24,767.40 L650.12,771.45 L648.03,775.44 L645.97,779.40 L643.93,783.30 L641.91,787.17 L639.92,790.99 L637.96,794.76 L636.02,798.50 L634.10,802.20 L632.20,805.86 L630.33,809.47 L628.48,813.06 L626.65,816.60 L624.84,820.11 L623.05,823.58 L621.29,827.02 L619.54,830.42 L617.81,833.79 L616.10,837.13 L614.40,840.43 L612.73,843.71 L611.07,846.95 L609.43,850.16 L607.81,853.34 L606.21,856.50 L604.62,859.62 L603.04,862.72 L601.49,865.79 L599.95,868.83 L598.42,871.84" fill="none" stroke="#008000" stroke-opacity="0.85" stroke-width="2.3" stroke-dasharray="7.7 3.33"/>
<path d="M742.89,679.80 L740.17,685.01 L737.49,690.14 L734.85,695.20 L732.26,700.19 L729.71,705.10 L727.20,709.95 L724.72,714.72 L722.29,719.44 L719.89,724.08 L717.53,728.67 L715.20,733.20 L712.90,737.66 L710.64,742.07 L708.41,746.43 L706.22,750.72 L704.05,754.97 L701.91,759.16 L699.80,763.31 L697.72,767.40 L695.67,771.45 L693.64,775.44 L691.64,779.40 L689.67,783.30 L687.72,787.17 L685.79,790.99 L683.89,794.76 L682.01,798.50 L680.16,802.20 L678.33,805.86 L676.51,809.47 L674.72,813.06 L672.96,816.60 L671.21,820.11 L669.48,823.58 L667.77,827.02 L666.08,830.42 L664.41,833.79 L662.75,837.13 L661.12,840.43 L659.50,843.71 L657.90,846.95 L656.32,850.16 L654.75,853.34 L653.20,856.50 L651.66,859.62 L650.15,862.72 L648.64,865.79 L647.15,868.83 L645.68,871.84" fill="none" stroke="#008000" stroke-opacity="0.85" stroke-width="2.3" stroke-dasharray="7.7 3.33"/>
<path d="M73.65,360.20 L84.60,377.20 L100.00,401.20 L145.00,468.00 L180.00,513.90 L239.30,590.00 L264.00,620.00 L270.10,627.40 L310.10,680.80 L336.80,723.50 L355.50,755.60 L368.90,779.60 L375.60,786.30 L390.30,801.00 L418.30,820.80" fill="none" stroke="#002456" stroke-width="0.8"/>
<path d="M563.30,64.90 L515.50,120.70 L448.40,174.10 L271.90,275.80 L262.10,283.10 L240.30,332.50 L254.40,381.90 L277.10,426.20 L299.20,465.10 L319.40,500.00 L337.10,531.30 L353.10,559.70 L364.30,585.10 L374.60,607.90 L392.50,646.90 L409.00,680.80 L417.00,692.80 L429.00,707.50 L449.60,728.90 L455.70,738.20 L451.70,748.10 L429.00,756.90 L408.40,763.10 L400.90,770.30 L390.30,777.00 L377.40,784.20 L375.60,790.90 L379.60,796.20 L390.30,804.20 L403.60,813.80 L418.30,821.00" fill="none" stroke="#ff0000" stroke-width="2.15" stroke-linejoin="round"/>
<path d="M334.70,64.90 L230.40,169.00 L222.70,179.70 L201.40,224.50 L216.30,283.10 L195.00,332.50 L212.10,381.90 L239.30,426.20 L264.90,465.10 L287.40,500.00 L289.60,531.30 L286.40,559.70 L284.20,585.10 L275.20,607.90 L275.40,628.20 L298.10,647.40 L328.80,663.50 L355.00,680.00 L386.20,706.20 L393.50,718.70 L383.60,729.40 L372.90,737.70 L368.10,748.10 L384.90,763.60 L380.90,774.30 L377.40,784.20 L371.60,789.00 L359.00,796.20 L352.90,806.30 L344.90,821.00" fill="none" stroke="#008000" stroke-width="2.15" stroke-linejoin="round"/>
<line x1="348.3" x2="389.7" y1="780.7" y2="780.7" stroke="#ffa500" stroke-width="4.2"/>
</g>
<line x1="73.65" x2="73.65" y1="64.9" y2="871.9" stroke="#002456" stroke-width="1.1"/>
<line x1="68.79" x2="73.65" y1="64.90" y2="64.90" stroke="#002456" stroke-width="1.1"/>
<text x="36.89" y="70.10" font-size="14.44" textLength="26.51" lengthAdjust="spacingAndGlyphs" fill="#002456">100</text>
<line x1="68.79" x2="73.65" y1="302.77" y2="302.77" stroke="#002456" stroke-width="1.1"/>
<text x="36.89" y="307.97" font-size="14.44" textLength="26.51" lengthAdjust="spacingAndGlyphs" fill="#002456">200</text>
<line x1="68.79" x2="73.65" y1="441.92" y2="441.92" stroke="#002456" stroke-width="1.1"/>
<text x="36.89" y="447.12" font-size="14.44" textLength="26.51" lengthAdjust="spacingAndGlyphs" fill="#002456">300</text>
<line x1="68.79" x2="73.65" y1="540.65" y2="540.65" stroke="#002456" stroke-width="1.1"/>
<text x="36.89" y="545.85" font-size="14.44" textLength="26.51" lengthAdjust="spacingAndGlyphs" fill="#002456">400</text>
<line x1="68.79" x2="73.65" y1="617.23" y2="617.23" stroke="#002456" stroke-width="1.1"/>
<text x="36.89" y="622.43" font-size="14.44" textLength="26.51" lengthAdjust="spacingAndGlyphs" fill="#002456">500</text>
<line x1="68.79" x2="73.65" y1="679.80" y2="679.80" stroke="#002456" stroke-width="1.1"/>
<text x="36.89" y="685.00" font-size="14.44" textLength="26.51" lengthAdjust="spacingAndGlyphs" fill="#002456">600</text>
<line x1="68.79" x2="73.65" y1="732.70" y2="732.70" stroke="#002456" stroke-width="1.1"/>
<text x="36.89" y="737.90" font-size="14.44" textLength="26.51" lengthAdjust="spacingAndGlyphs" fill="#002456">700</text>
<line x1="68.79" x2="73.65" y1="778.52" y2="778.52" stroke="#002456" stroke-width="1.1"/>
<text x="36.89" y="783.72" font-size="14.44" textLength="26.51" lengthAdjust="spacingAndGlyphs" fill="#002456">800</text>
<line x1="68.79" x2="73.65" y1="818.94" y2="818.94" stroke="#002456" stroke-width="1.1"/>
<text x="36.89" y="824.14" font-size="14.44" textLength="26.51" lengthAdjust="spacingAndGlyphs" fill="#002456">900</text>
<line x1="68.79" x2="73.65" y1="855.10" y2="855.10" stroke="#002456" stroke-width="1.1"/>
<text x="28.05" y="860.30" font-size="14.44" textLength="35.35" lengthAdjust="spacingAndGlyphs" fill="#002456">1000</text>
<line x1="122.37" x2="122.37" y1="871.9" y2="876.8" stroke="#002456" stroke-width="1.1"/>
<text x="108.02" y="892.30" font-size="14.44" textLength="29.31" lengthAdjust="spacingAndGlyphs" fill="#002456">−20</text>
<line x1="220.42" x2="220.42" y1="871.9" y2="876.8" stroke="#002456" stroke-width="1.1"/>
<text x="206.06" y="892.30" font-size="14.44" textLength="29.31" lengthAdjust="spacingAndGlyphs" fill="#002456">−10</text>
<line x1="318.46" x2="318.46" y1="871.9" y2="876.8" stroke="#002456" stroke-width="1.1"/>
<text x="314.35" y="892.30" font-size="14.44" textLength="8.84" lengthAdjust="spacingAndGlyphs" fill="#002456">0</text>
<line x1="416.51" x2="416.51" y1="871.9" y2="876.8" stroke="#002456" stroke-width="1.1"/>
<text x="407.97" y="892.30" font-size="14.44" textLength="17.67" lengthAdjust="spacingAndGlyphs" fill="#002456">10</text>
<line x1="514.55" x2="514.55" y1="871.9" y2="876.8" stroke="#002456" stroke-width="1.1"/>
<text x="506.02" y="892.30" font-size="14.44" textLength="17.67" lengthAdjust="spacingAndGlyphs" fill="#002456">20</text>
<text y="912.00" font-size="14.44" fill="#002456"><tspan x="283.88" textLength="87.98" lengthAdjust="spacingAndGlyphs">Temperature</tspan> <tspan x="376.28" textLength="26.44" lengthAdjust="spacingAndGlyphs">(℃)</tspan></text>
<text y="469.20" font-size="14.44" fill="#002456" transform="rotate(-90 17.80 469.20)"><tspan x="-54.71" textLength="54.36" lengthAdjust="spacingAndGlyphs">Isobaric</tspan> <tspan x="4.07" textLength="45.91" lengthAdjust="spacingAndGlyphs">Height</tspan> <tspan x="54.40" textLength="35.90" lengthAdjust="spacingAndGlyphs">(hPa)</tspan></text>
<text y="20.60" font-size="26.00" fill="#002456"><tspan x="-0.03" textLength="105.36" lengthAdjust="spacingAndGlyphs">Chadron</tspan> <tspan x="113.28" textLength="93.52" lengthAdjust="spacingAndGlyphs">Airport,</tspan> <tspan x="214.75" textLength="42.92" lengthAdjust="spacingAndGlyphs">NE;</tspan> <tspan x="265.62" textLength="75.06" lengthAdjust="spacingAndGlyphs">Model</tspan> <tspan x="348.62" textLength="47.94" lengthAdjust="spacingAndGlyphs">Run</tspan> <tspan x="404.51" textLength="145.29" lengthAdjust="spacingAndGlyphs">2026-04-05</tspan> <tspan x="557.75" textLength="31.81" lengthAdjust="spacingAndGlyphs">06</tspan> <tspan x="597.51" textLength="57.99" lengthAdjust="spacingAndGlyphs">UTC;</tspan> <tspan x="663.44" textLength="56.47" lengthAdjust="spacingAndGlyphs">WRF</tspan> <tspan x="727.86" textLength="97.01" lengthAdjust="spacingAndGlyphs">Domain</tspan> <tspan x="832.82" textLength="31.81" lengthAdjust="spacingAndGlyphs">02</tspan></text>
<text y="55.90" font-size="21.67" fill="#002456"><tspan x="122.80" textLength="121.08" lengthAdjust="spacingAndGlyphs">2026-04-06</tspan> <tspan x="250.49" textLength="26.51" lengthAdjust="spacingAndGlyphs">18</tspan> <tspan x="283.63" textLength="41.30" lengthAdjust="spacingAndGlyphs">UTC</tspan> <tspan x="338.17" textLength="129.20" lengthAdjust="spacingAndGlyphs">(2026-04-06</tspan> <tspan x="474.00" textLength="26.51" lengthAdjust="spacingAndGlyphs">12</tspan> <tspan x="507.13" textLength="54.87" lengthAdjust="spacingAndGlyphs">MDT)</tspan></text>
<text y="85.90" font-size="14.44" fill="#002456"><tspan x="101.12" textLength="25.17" lengthAdjust="spacingAndGlyphs">LCL</tspan> <tspan x="130.71" textLength="50.59" lengthAdjust="spacingAndGlyphs">Height:</tspan></text>
<text y="85.90" font-size="14.44" fill="#002456"><tspan x="184.80" textLength="48.60" lengthAdjust="spacingAndGlyphs">1869.0</tspan> <tspan x="237.81" textLength="13.53" lengthAdjust="spacingAndGlyphs">m</tspan></text>
<text y="103.85" font-size="14.44" fill="#002456"><tspan x="100.87" textLength="25.43" lengthAdjust="spacingAndGlyphs">LFC</tspan> <tspan x="130.71" textLength="50.59" lengthAdjust="spacingAndGlyphs">Height:</tspan></text>
<text y="103.85" font-size="14.44" fill="#002456"><tspan x="184.80" textLength="26.12" lengthAdjust="spacingAndGlyphs">nan</tspan> <tspan x="215.33" textLength="13.53" lengthAdjust="spacingAndGlyphs">m</tspan></text>
<text x="139.94" y="121.80" font-size="14.44" textLength="41.36" lengthAdjust="spacingAndGlyphs" fill="#002456">MLLR:</text>
<text y="121.80" font-size="14.44" fill="#002456"><tspan x="184.80" textLength="22.09" lengthAdjust="spacingAndGlyphs">7.4</tspan> <tspan x="211.30" textLength="9.11" lengthAdjust="spacingAndGlyphs">K</tspan></text>
<text x="122.17" y="139.75" font-size="14.44" textLength="59.13" lengthAdjust="spacingAndGlyphs" fill="#002456">SBCAPE:</text>
<text y="139.75" font-size="14.44" fill="#002456"><tspan x="184.80" textLength="22.09" lengthAdjust="spacingAndGlyphs">0.0</tspan> <tspan x="211.30" textLength="25.64" lengthAdjust="spacingAndGlyphs">J/kg</tspan></text>
<text x="134.34" y="157.70" font-size="14.44" textLength="46.96" lengthAdjust="spacingAndGlyphs" fill="#002456">SBCIN:</text>
<text y="157.70" font-size="14.44" fill="#002456"><tspan x="184.80" textLength="22.09" lengthAdjust="spacingAndGlyphs">0.0</tspan> <tspan x="211.30" textLength="25.64" lengthAdjust="spacingAndGlyphs">J/kg</tspan></text>
<text x="120.55" y="175.65" font-size="14.44" textLength="60.75" lengthAdjust="spacingAndGlyphs" fill="#002456">MLCAPE:</text>
<text y="175.65" font-size="14.44" fill="#002456"><tspan x="184.80" textLength="22.09" lengthAdjust="spacingAndGlyphs">0.0</tspan> <tspan x="211.30" textLength="25.64" lengthAdjust="spacingAndGlyphs">J/kg</tspan></text>
<text x="132.71" y="193.60" font-size="14.44" textLength="48.59" lengthAdjust="spacingAndGlyphs" fill="#002456">MLCIN:</text>
<text y="193.60" font-size="14.44" fill="#002456"><tspan x="184.80" textLength="22.09" lengthAdjust="spacingAndGlyphs">0.0</tspan> <tspan x="211.30" textLength="25.64" lengthAdjust="spacingAndGlyphs">J/kg</tspan></text>
<text x="118.12" y="211.55" font-size="14.44" textLength="63.18" lengthAdjust="spacingAndGlyphs" fill="#002456">MUCAPE:</text>
<text y="211.55" font-size="14.44" fill="#002456"><tspan x="184.80" textLength="22.09" lengthAdjust="spacingAndGlyphs">0.0</tspan> <tspan x="211.30" textLength="25.64" lengthAdjust="spacingAndGlyphs">J/kg</tspan></text>
<text y="229.50" font-size="14.44" fill="#002456"><tspan x="83.14" textLength="40.39" lengthAdjust="spacingAndGlyphs">Shear</tspan> <tspan x="127.95" textLength="22.69" lengthAdjust="spacingAndGlyphs">0-1</tspan> <tspan x="155.05" textLength="26.25" lengthAdjust="spacingAndGlyphs">km:</tspan></text>
<text y="229.50" font-size="14.44" fill="#002456"><tspan x="184.80" textLength="22.09" lengthAdjust="spacingAndGlyphs">0.6</tspan> <tspan x="211.30" textLength="25.45" lengthAdjust="spacingAndGlyphs">m/s</tspan></text>
<text y="247.45" font-size="14.44" fill="#002456"><tspan x="83.14" textLength="40.39" lengthAdjust="spacingAndGlyphs">Shear</tspan> <tspan x="127.95" textLength="22.69" lengthAdjust="spacingAndGlyphs">0-6</tspan> <tspan x="155.05" textLength="26.25" lengthAdjust="spacingAndGlyphs">km:</tspan></text>
<text y="247.45" font-size="14.44" fill="#002456"><tspan x="184.80" textLength="30.93" lengthAdjust="spacingAndGlyphs">27.2</tspan> <tspan x="220.14" textLength="25.45" lengthAdjust="spacingAndGlyphs">m/s</tspan></text>
<text y="265.40" font-size="14.44" fill="#002456"><tspan x="94.62" textLength="28.91" lengthAdjust="spacingAndGlyphs">SRH</tspan> <tspan x="127.95" textLength="22.69" lengthAdjust="spacingAndGlyphs">0-1</tspan> <tspan x="155.05" textLength="26.25" lengthAdjust="spacingAndGlyphs">km:</tspan></text>
<text y="265.40" font-size="14.44" fill="#002456"><tspan x="184.80" textLength="35.94" lengthAdjust="spacingAndGlyphs">-50.2</tspan> <tspan x="225.15" textLength="36.58" lengthAdjust="spacingAndGlyphs">m²/s²</tspan></text>
<text y="283.35" font-size="14.44" fill="#002456"><tspan x="94.62" textLength="28.91" lengthAdjust="spacingAndGlyphs">SRH</tspan> <tspan x="127.95" textLength="22.69" lengthAdjust="spacingAndGlyphs">0-3</tspan> <tspan x="155.05" textLength="26.25" lengthAdjust="spacingAndGlyphs">km:</tspan></text>
<text y="283.35" font-size="14.44" fill="#002456"><tspan x="184.80" textLength="44.77" lengthAdjust="spacingAndGlyphs">-135.9</tspan> <tspan x="233.99" textLength="36.58" lengthAdjust="spacingAndGlyphs">m²/s²</tspan></text>
<path d="M612.90,67.40 L581.51,54.27 L590.68,43.35 L589.35,57.55Z" fill="#002456" stroke="#002456" stroke-width="1.75" stroke-linejoin="round"/>
<path d="M612.90,121.00 L581.76,107.27 L591.15,96.53 L589.55,110.70Z" fill="#002456" stroke="#002456" stroke-width="1.75" stroke-linejoin="round"/>
<path d="M612.90,174.40 L581.69,160.83 L591.02,150.04 L589.49,164.22 L593.40,165.92 L594.16,158.83 L593.40,165.92Z" fill="#002456" stroke="#002456" stroke-width="1.75" stroke-linejoin="round"/>
<path d="M612.90,227.40 L580.63,216.60 L588.98,205.04 L588.70,219.30 L592.73,220.65 L592.87,213.52 L592.73,220.65Z" fill="#002456" stroke="#002456" stroke-width="1.75" stroke-linejoin="round"/>
<path d="M612.90,280.80 L580.54,270.28 L588.79,258.65 L588.63,272.91 L592.67,274.23 L592.75,267.10 L592.67,274.23Z" fill="#002456" stroke="#002456" stroke-width="1.75" stroke-linejoin="round"/>
<path d="M612.90,333.20 L580.69,322.23 L589.10,310.72 L588.74,324.97 L592.77,326.35 L593.13,312.09 L592.77,326.35Z" fill="#002456" stroke="#002456" stroke-width="1.75" stroke-linejoin="round"/>
<path d="M612.90,381.80 L579.84,373.74 L587.19,361.52 L588.10,375.76 L592.24,376.76 L591.78,369.65 L592.24,376.76Z" fill="#002456" stroke="#002456" stroke-width="1.75" stroke-linejoin="round"/>
<path d="M612.90,426.20 L579.78,418.37 L587.05,406.10 L588.06,420.33 L592.20,421.31 L591.70,414.19 L592.20,421.31Z" fill="#002456" stroke="#002456" stroke-width="1.75" stroke-linejoin="round"/>
<path d="M612.90,465.10 L579.53,458.43 L586.37,445.92 L587.87,460.10 L592.04,460.93 L591.29,453.84 L592.04,460.93Z" fill="#002456" stroke="#002456" stroke-width="1.75" stroke-linejoin="round"/>
<path d="M612.90,500.00 L579.42,493.92 L586.04,481.28 L587.79,495.44Z" fill="#002456" stroke="#002456" stroke-width="1.75" stroke-linejoin="round"/>
<path d="M612.90,531.30 L579.52,524.69 L586.33,512.16 L587.86,526.34Z" fill="#002456" stroke="#002456" stroke-width="1.75" stroke-linejoin="round"/>
<path d="M612.90,559.70 L579.55,552.92 L578.10,538.73 L579.55,552.92 L583.72,553.76 L582.27,539.58 L583.72,553.76 L587.89,554.61 L586.44,540.42 L587.89,554.61 L592.06,555.46 L590.60,541.27 L592.06,555.46Z" fill="#002456" stroke="#002456" stroke-width="1.75" stroke-linejoin="round"/>
<path d="M612.90,585.10 L579.77,577.33 L578.74,563.11 L579.77,577.33 L583.91,578.30 L582.88,564.08 L583.91,578.30 L588.05,579.27 L587.02,565.05 L588.05,579.27 L592.19,580.24 L591.68,573.13 L592.19,580.24Z" fill="#002456" stroke="#002456" stroke-width="1.75" stroke-linejoin="round"/>
<path d="M612.90,607.90 L580.03,599.09 L579.44,584.84 L580.03,599.09 L584.14,600.19 L583.55,585.94 L584.14,600.19 L588.25,601.29 L587.66,587.05 L588.25,601.29Z" fill="#002456" stroke="#002456" stroke-width="1.75" stroke-linejoin="round"/>
<path d="M612.90,646.90 L579.77,639.13 L578.74,624.91 L579.77,639.13 L583.91,640.10 L582.88,625.88 L583.91,640.10 L588.05,641.07 L587.54,633.96 L588.05,641.07Z" fill="#002456" stroke="#002456" stroke-width="1.75" stroke-linejoin="round"/>
<path d="M612.90,680.00 L579.76,672.29 L578.70,658.07 L579.76,672.29 L583.90,673.25 L583.37,666.14 L583.90,673.25Z" fill="#002456" stroke="#002456" stroke-width="1.75" stroke-linejoin="round"/>
<path d="M612.90,707.10 L579.50,713.59 L572.72,701.04 L579.50,713.59 L583.67,712.78 L580.28,706.51 L583.67,712.78Z" fill="#002456" stroke="#002456" stroke-width="1.75" stroke-linejoin="round"/>
<path d="M612.90,729.00 L581.35,741.75 L572.30,730.72 L581.35,741.75Z" fill="#002456" stroke="#002456" stroke-width="1.75" stroke-linejoin="round"/>
<path d="M612.90,748.00 L578.87,748.00 L585.25,748.00 L583.12,741.19 L585.25,748.00Z" fill="#002456" stroke="#002456" stroke-width="1.75" stroke-linejoin="round"/>
<path d="M612.30,763.90 L646.20,760.93 L639.84,761.49 L642.56,768.08 L639.84,761.49Z" fill="#002456" stroke="#002456" stroke-width="1.75" stroke-linejoin="round"/>
<path d="M612.30,776.60 L645.51,784.02 L639.28,782.63 L639.87,789.74 L639.28,782.63Z" fill="#002456" stroke="#002456" stroke-width="1.75" stroke-linejoin="round"/>
<path d="M612.30,787.65 L639.51,808.08 L634.74,821.52 L639.51,808.08Z" fill="#002456" stroke="#002456" stroke-width="1.75" stroke-linejoin="round"/>
<path d="M612.30,796.80 L644.07,809.00 L643.16,823.23 L644.07,809.00 L640.10,807.47 L639.65,814.59 L640.10,807.47Z" fill="#002456" stroke="#002456" stroke-width="1.75" stroke-linejoin="round"/>
<path d="M612.30,804.50 L643.85,817.25 L642.70,831.46 L643.85,817.25 L639.91,815.65 L639.33,822.76 L639.91,815.65Z" fill="#002456" stroke="#002456" stroke-width="1.75" stroke-linejoin="round"/>
<path d="M612.30,810.50 L643.85,823.25 L642.70,837.46 L643.85,823.25Z" fill="#002456" stroke="#002456" stroke-width="1.75" stroke-linejoin="round"/>
<path d="M612.30,816.30 L643.78,829.21 L642.56,843.42 L643.78,829.21Z" fill="#002456" stroke="#002456" stroke-width="1.75" stroke-linejoin="round"/>
<path d="M612.30,820.50 L643.78,833.41 L642.56,847.62 L643.78,833.41Z" fill="#002456" stroke="#002456" stroke-width="1.75" stroke-linejoin="round"/>
<text x="580.67" y="835.20" font-size="14.44" textLength="65.46" lengthAdjust="spacingAndGlyphs" fill="#002456">Mon-MDT</text>
<circle cx="612.8" cy="871.3" r="22.3" fill="#fff" stroke="#b0b0b0" stroke-width="1"/>
<line x1="613.5" x2="613.5" y1="872" y2="850.2" stroke="#002456" stroke-width="1.7"/>
<g clip-path="url(#hodo)">
<ellipse cx="792.90" cy="176.95" rx="23.60" ry="23.64" fill="none" stroke="#808080" stroke-width="1.3" stroke-dasharray="4.1 1.8"/>
<ellipse cx="792.90" cy="176.95" rx="47.20" ry="47.27" fill="none" stroke="#808080" stroke-width="1.3" stroke-dasharray="4.1 1.8"/>
<ellipse cx="792.90" cy="176.95" rx="70.80" ry="70.91" fill="none" stroke="#808080" stroke-width="1.3" stroke-dasharray="4.1 1.8"/>
<ellipse cx="792.90" cy="176.95" rx="94.40" ry="94.55" fill="none" stroke="#808080" stroke-width="1.3" stroke-dasharray="4.1 1.8"/>
<ellipse cx="792.90" cy="176.95" rx="118.00" ry="118.19" fill="none" stroke="#808080" stroke-width="1.3" stroke-dasharray="4.1 1.8"/>
<line x1="698.5" x2="887.3" y1="176.95" y2="176.95" stroke="#808080" stroke-width="2.1" stroke-dasharray="7.7 3.33"/>
<line x1="792.90" x2="792.90" y1="271.5" y2="82.4" stroke="#808080" stroke-width="2.1" stroke-dasharray="7.7 3.33"/>
<line x1="776.00" y1="166.70" x2="776.80" y2="166.57" stroke="#000082" stroke-width="4.2" stroke-linecap="square"/>
<line x1="776.80" y1="166.57" x2="777.60" y2="166.45" stroke="#000088" stroke-width="4.2" stroke-linecap="square"/>
<line x1="777.60" y1="166.45" x2="778.40" y2="166.32" stroke="#00008e" stroke-width="4.2" stroke-linecap="square"/>
<line x1="778.40" y1="166.32" x2="779.20" y2="166.20" stroke="#000094" stroke-width="4.2" stroke-linecap="square"/>
<line x1="779.20" y1="166.20" x2="780.05" y2="167.10" stroke="#00009a" stroke-width="4.2" stroke-linecap="square"/>
<line x1="780.05" y1="167.10" x2="780.90" y2="168.00" stroke="#00009f" stroke-width="4.2" stroke-linecap="square"/>
<line x1="780.90" y1="168.00" x2="781.75" y2="168.90" stroke="#0000a5" stroke-width="4.2" stroke-linecap="square"/>
<line x1="781.75" y1="168.90" x2="782.60" y2="169.80" stroke="#0000ab" stroke-width="4.2" stroke-linecap="square"/>
<line x1="782.60" y1="169.80" x2="781.85" y2="170.25" stroke="#0000b1" stroke-width="4.2" stroke-linecap="square"/>
<line x1="781.85" y1="170.25" x2="781.10" y2="170.70" stroke="#0000b7" stroke-width="4.2" stroke-linecap="square"/>
<line x1="781.10" y1="170.70" x2="780.35" y2="171.15" stroke="#0000bc" stroke-width="4.2" stroke-linecap="square"/>
<line x1="780.35" y1="171.15" x2="779.60" y2="171.60" stroke="#0000c2" stroke-width="4.2" stroke-linecap="square"/>
<line x1="779.60" y1="171.60" x2="780.52" y2="172.15" stroke="#0000c9" stroke-width="4.2" stroke-linecap="square"/>
<line x1="780.52" y1="172.15" x2="781.45" y2="172.70" stroke="#0000d2" stroke-width="4.2" stroke-linecap="square"/>
<line x1="781.45" y1="172.70" x2="782.38" y2="173.25" stroke="#0000db" stroke-width="4.2" stroke-linecap="square"/>
<line x1="782.38" y1="173.25" x2="783.30" y2="173.80" stroke="#0000e3" stroke-width="4.2" stroke-linecap="square"/>
<line x1="783.30" y1="173.80" x2="783.52" y2="174.55" stroke="#0000ec" stroke-width="3.3" stroke-linecap="square"/>
<line x1="783.52" y1="174.55" x2="783.75" y2="175.30" stroke="#0000f5" stroke-width="3.3" stroke-linecap="square"/>
<line x1="783.75" y1="175.30" x2="783.98" y2="176.05" stroke="#0000fe" stroke-width="3.3" stroke-linecap="square"/>
<line x1="783.98" y1="176.05" x2="784.20" y2="176.80" stroke="#0000ff" stroke-width="3.3" stroke-linecap="square"/>
<line x1="784.20" y1="176.80" x2="785.15" y2="177.00" stroke="#0000ff" stroke-width="3.3" stroke-linecap="square"/>
<line x1="785.15" y1="177.00" x2="786.10" y2="177.20" stroke="#0003ff" stroke-width="3.3" stroke-linecap="square"/>
<line x1="786.10" y1="177.20" x2="787.05" y2="177.40" stroke="#0008ff" stroke-width="3.3" stroke-linecap="square"/>
<line x1="787.05" y1="177.40" x2="788.00" y2="177.60" stroke="#000dff" stroke-width="3.3" stroke-linecap="square"/>
<line x1="788.00" y1="177.60" x2="789.33" y2="177.62" stroke="#0012ff" stroke-width="3.3" stroke-linecap="square"/>
<line x1="789.33" y1="177.62" x2="790.65" y2="177.65" stroke="#0017ff" stroke-width="3.3" stroke-linecap="square"/>
<line x1="790.65" y1="177.65" x2="791.97" y2="177.67" stroke="#001cff" stroke-width="3.3" stroke-linecap="square"/>
<line x1="791.97" y1="177.67" x2="793.30" y2="177.70" stroke="#0021ff" stroke-width="3.3" stroke-linecap="square"/>
<line x1="793.30" y1="177.70" x2="794.47" y2="177.57" stroke="#0026ff" stroke-width="3.3" stroke-linecap="square"/>
<line x1="794.47" y1="177.57" x2="795.65" y2="177.45" stroke="#002bff" stroke-width="3.3" stroke-linecap="square"/>
<line x1="795.65" y1="177.45" x2="796.83" y2="177.32" stroke="#0030ff" stroke-width="3.3" stroke-linecap="square"/>
<line x1="796.83" y1="177.32" x2="798.00" y2="177.20" stroke="#0036ff" stroke-width="3.3" stroke-linecap="square"/>
<line x1="798.00" y1="177.20" x2="798.88" y2="176.85" stroke="#003bff" stroke-width="3.3" stroke-linecap="square"/>
<line x1="798.88" y1="176.85" x2="799.75" y2="176.50" stroke="#0040ff" stroke-width="3.3" stroke-linecap="square"/>
<line x1="799.75" y1="176.50" x2="800.62" y2="176.15" stroke="#0045ff" stroke-width="3.3" stroke-linecap="square"/>
<line x1="800.62" y1="176.15" x2="801.50" y2="175.80" stroke="#004aff" stroke-width="3.3" stroke-linecap="square"/>
<line x1="801.50" y1="175.80" x2="802.50" y2="174.48" stroke="#0050ff" stroke-width="3.3" stroke-linecap="square"/>
<line x1="802.50" y1="174.48" x2="803.50" y2="173.15" stroke="#0058ff" stroke-width="3.3" stroke-linecap="square"/>
<line x1="803.50" y1="173.15" x2="804.50" y2="171.82" stroke="#0060ff" stroke-width="3.3" stroke-linecap="square"/>
<line x1="804.50" y1="171.82" x2="805.50" y2="170.50" stroke="#0067ff" stroke-width="3.3" stroke-linecap="square"/>
<line x1="805.50" y1="170.50" x2="806.08" y2="170.93" stroke="#006eff" stroke-width="3.3" stroke-linecap="square"/>
<line x1="806.08" y1="170.93" x2="806.65" y2="171.35" stroke="#0073ff" stroke-width="3.3" stroke-linecap="square"/>
<line x1="806.65" y1="171.35" x2="807.22" y2="171.77" stroke="#0078ff" stroke-width="3.3" stroke-linecap="square"/>
<line x1="807.22" y1="171.77" x2="807.80" y2="172.20" stroke="#007dff" stroke-width="3.3" stroke-linecap="square"/>
<line x1="807.80" y1="172.20" x2="808.20" y2="173.55" stroke="#0083ff" stroke-width="3.3" stroke-linecap="square"/>
<line x1="808.20" y1="173.55" x2="808.60" y2="174.90" stroke="#008bff" stroke-width="3.3" stroke-linecap="square"/>
<line x1="808.60" y1="174.90" x2="809.00" y2="176.25" stroke="#0093ff" stroke-width="3.3" stroke-linecap="square"/>
<line x1="809.00" y1="176.25" x2="809.40" y2="177.60" stroke="#009aff" stroke-width="3.3" stroke-linecap="square"/>
<line x1="809.40" y1="177.60" x2="810.20" y2="178.40" stroke="#00a2ff" stroke-width="3.3" stroke-linecap="square"/>
<line x1="810.20" y1="178.40" x2="811.00" y2="179.20" stroke="#00aaff" stroke-width="3.3" stroke-linecap="square"/>
<line x1="811.00" y1="179.20" x2="811.80" y2="180.00" stroke="#00b1ff" stroke-width="3.3" stroke-linecap="square"/>
<line x1="811.80" y1="180.00" x2="812.60" y2="180.80" stroke="#00b9ff" stroke-width="3.3" stroke-linecap="square"/>
<line x1="812.60" y1="180.80" x2="813.88" y2="181.28" stroke="#00c3ff" stroke-width="3.3" stroke-linecap="square"/>
<line x1="813.88" y1="181.28" x2="815.15" y2="181.75" stroke="#00d0ff" stroke-width="3.3" stroke-linecap="square"/>
<line x1="815.15" y1="181.75" x2="816.43" y2="182.22" stroke="#00ddfe" stroke-width="3.3" stroke-linecap="square"/>
<line x1="816.43" y1="182.22" x2="817.70" y2="182.70" stroke="#03e9f4" stroke-width="3.3" stroke-linecap="square"/>
<line x1="817.70" y1="182.70" x2="819.30" y2="183.35" stroke="#0ef7e8" stroke-width="3.3" stroke-linecap="square"/>
<line x1="819.30" y1="183.35" x2="820.90" y2="184.00" stroke="#1bffdc" stroke-width="3.3" stroke-linecap="square"/>
<line x1="820.90" y1="184.00" x2="822.50" y2="184.65" stroke="#27ffd0" stroke-width="3.3" stroke-linecap="square"/>
<line x1="822.50" y1="184.65" x2="824.10" y2="185.30" stroke="#33ffc3" stroke-width="3.3" stroke-linecap="square"/>
<line x1="824.10" y1="185.30" x2="826.02" y2="185.83" stroke="#40ffb7" stroke-width="3.3" stroke-linecap="square"/>
<line x1="826.02" y1="185.83" x2="827.95" y2="186.35" stroke="#4cffab" stroke-width="3.3" stroke-linecap="square"/>
<line x1="827.95" y1="186.35" x2="829.88" y2="186.88" stroke="#58ff9e" stroke-width="3.3" stroke-linecap="square"/>
<line x1="829.88" y1="186.88" x2="831.80" y2="187.40" stroke="#65ff92" stroke-width="3.3" stroke-linecap="square"/>
<line x1="831.80" y1="187.40" x2="833.72" y2="187.50" stroke="#71ff86" stroke-width="3.3" stroke-linecap="square"/>
<line x1="833.72" y1="187.50" x2="835.65" y2="187.60" stroke="#7dff79" stroke-width="3.3" stroke-linecap="square"/>
<line x1="835.65" y1="187.60" x2="837.58" y2="187.70" stroke="#8aff6d" stroke-width="3.3" stroke-linecap="square"/>
<line x1="837.58" y1="187.70" x2="839.50" y2="187.80" stroke="#96ff61" stroke-width="3.3" stroke-linecap="square"/>
<line x1="839.50" y1="187.80" x2="841.42" y2="187.65" stroke="#a2ff54" stroke-width="3.3" stroke-linecap="square"/>
<line x1="841.42" y1="187.65" x2="843.35" y2="187.50" stroke="#afff48" stroke-width="3.3" stroke-linecap="square"/>
<line x1="843.35" y1="187.50" x2="845.28" y2="187.35" stroke="#bbff3c" stroke-width="3.3" stroke-linecap="square"/>
<line x1="845.28" y1="187.35" x2="847.20" y2="187.20" stroke="#c7ff2f" stroke-width="3.3" stroke-linecap="square"/>
<line x1="847.20" y1="187.20" x2="848.80" y2="187.20" stroke="#d4ff23" stroke-width="3.3" stroke-linecap="square"/>
<line x1="848.80" y1="187.20" x2="850.40" y2="187.20" stroke="#e0ff17" stroke-width="3.3" stroke-linecap="square"/>
<line x1="850.40" y1="187.20" x2="852.00" y2="187.20" stroke="#ecff0a" stroke-width="3.3" stroke-linecap="square"/>
<line x1="852.00" y1="187.20" x2="853.60" y2="187.20" stroke="#f9f300" stroke-width="3.3" stroke-linecap="square"/>
<line x1="853.60" y1="187.20" x2="854.25" y2="187.52" stroke="#ffe500" stroke-width="3.3" stroke-linecap="square"/>
<line x1="854.25" y1="187.52" x2="854.90" y2="187.85" stroke="#ffd700" stroke-width="3.3" stroke-linecap="square"/>
<line x1="854.90" y1="187.85" x2="855.55" y2="188.18" stroke="#ffc900" stroke-width="3.3" stroke-linecap="square"/>
<line x1="855.55" y1="188.18" x2="856.20" y2="188.50" stroke="#ffbb00" stroke-width="3.3" stroke-linecap="square"/>
<line x1="856.20" y1="188.50" x2="856.83" y2="189.12" stroke="#ffaa00" stroke-width="3.3" stroke-linecap="square"/>
<line x1="856.83" y1="189.12" x2="857.45" y2="189.75" stroke="#ff9700" stroke-width="3.3" stroke-linecap="square"/>
<line x1="857.45" y1="189.75" x2="858.08" y2="190.38" stroke="#ff8400" stroke-width="3.3" stroke-linecap="square"/>
<line x1="858.08" y1="190.38" x2="858.70" y2="191.00" stroke="#ff7100" stroke-width="3.3" stroke-linecap="square"/>
<line x1="858.70" y1="191.00" x2="859.03" y2="191.65" stroke="#ff5e00" stroke-width="3.3" stroke-linecap="square"/>
<line x1="859.03" y1="191.65" x2="859.35" y2="192.30" stroke="#ff4c00" stroke-width="3.3" stroke-linecap="square"/>
<line x1="859.35" y1="192.30" x2="859.67" y2="192.95" stroke="#ff3900" stroke-width="3.3" stroke-linecap="square"/>
<line x1="859.67" y1="192.95" x2="860.00" y2="193.60" stroke="#ff2600" stroke-width="3.3" stroke-linecap="square"/>
<line x1="860.00" y1="193.60" x2="860.00" y2="194.60" stroke="#ff1400" stroke-width="3.3" stroke-linecap="square"/>
<line x1="860.00" y1="194.60" x2="860.00" y2="195.60" stroke="#ec0400" stroke-width="3.3" stroke-linecap="square"/>
<line x1="860.00" y1="195.60" x2="860.00" y2="196.60" stroke="#d80000" stroke-width="3.3" stroke-linecap="square"/>
<line x1="860.00" y1="196.60" x2="860.00" y2="197.60" stroke="#c40000" stroke-width="3.3" stroke-linecap="square"/>
</g>
<line x1="698.5" x2="698.5" y1="81.9" y2="271.8" stroke="#002456" stroke-width="1.1"/>
<rect x="697.95" y="268.85" width="189.35" height="2.95" fill="#002456"/>
<line x1="698.50" x2="698.50" y1="271.8" y2="276.6" stroke="#002456" stroke-width="1.1"/>
<line x1="693.64" x2="698.5" y1="271.50" y2="271.50" stroke="#002456" stroke-width="1.1"/>
<text x="683.84" y="292.40" font-size="14.44" textLength="29.31" lengthAdjust="spacingAndGlyphs" fill="#002456">−40</text>
<text x="659.19" y="276.70" font-size="14.44" textLength="29.31" lengthAdjust="spacingAndGlyphs" fill="#002456">−40</text>
<line x1="745.70" x2="745.70" y1="271.8" y2="276.6" stroke="#002456" stroke-width="1.1"/>
<line x1="693.64" x2="698.5" y1="224.22" y2="224.22" stroke="#002456" stroke-width="1.1"/>
<text x="731.04" y="292.40" font-size="14.44" textLength="29.31" lengthAdjust="spacingAndGlyphs" fill="#002456">−20</text>
<text x="659.19" y="229.42" font-size="14.44" textLength="29.31" lengthAdjust="spacingAndGlyphs" fill="#002456">−20</text>
<line x1="792.90" x2="792.90" y1="271.8" y2="276.6" stroke="#002456" stroke-width="1.1"/>
<line x1="693.64" x2="698.5" y1="176.95" y2="176.95" stroke="#002456" stroke-width="1.1"/>
<text x="788.48" y="292.40" font-size="14.44" textLength="8.84" lengthAdjust="spacingAndGlyphs" fill="#002456">0</text>
<text x="679.66" y="182.15" font-size="14.44" textLength="8.84" lengthAdjust="spacingAndGlyphs" fill="#002456">0</text>
<line x1="840.10" x2="840.10" y1="271.8" y2="276.6" stroke="#002456" stroke-width="1.1"/>
<line x1="693.64" x2="698.5" y1="129.67" y2="129.67" stroke="#002456" stroke-width="1.1"/>
<text x="831.26" y="292.40" font-size="14.44" textLength="17.67" lengthAdjust="spacingAndGlyphs" fill="#002456">20</text>
<text x="670.83" y="134.87" font-size="14.44" textLength="17.67" lengthAdjust="spacingAndGlyphs" fill="#002456">20</text>
<line x1="887.30" x2="887.30" y1="271.8" y2="276.6" stroke="#002456" stroke-width="1.1"/>
<line x1="693.64" x2="698.5" y1="82.40" y2="82.40" stroke="#002456" stroke-width="1.1"/>
<text x="878.46" y="292.40" font-size="14.44" textLength="17.67" lengthAdjust="spacingAndGlyphs" fill="#002456">40</text>
<text x="670.83" y="87.60" font-size="14.44" textLength="17.67" lengthAdjust="spacingAndGlyphs" fill="#002456">40</text>
<g>
<text y="306.60" font-size="14.44" fill="#002456"><tspan x="761.12" textLength="8.80" lengthAdjust="spacingAndGlyphs">u</tspan> <tspan x="774.34" textLength="18.95" lengthAdjust="spacingAndGlyphs">(m</tspan> <tspan x="797.70" textLength="7.24" lengthAdjust="spacingAndGlyphs">s</tspan></text>
<text x="804.94" y="301.30" font-size="10.11" textLength="14.33" lengthAdjust="spacingAndGlyphs" fill="#002456">−1</text>
<text x="819.26" y="306.60" font-size="14.44" textLength="5.42" lengthAdjust="spacingAndGlyphs" fill="#002456">)</text>
</g>
<g transform="rotate(-90 656.50 176.50)">
<text y="176.50" font-size="14.44" fill="#002456"><tspan x="625.01" textLength="8.22" lengthAdjust="spacingAndGlyphs">v</tspan> <tspan x="637.64" textLength="18.95" lengthAdjust="spacingAndGlyphs">(m</tspan> <tspan x="661.01" textLength="7.24" lengthAdjust="spacingAndGlyphs">s</tspan></text>
<text x="668.24" y="171.20" font-size="10.11" textLength="14.33" lengthAdjust="spacingAndGlyphs" fill="#002456">−1</text>
<text x="682.57" y="176.50" font-size="14.44" textLength="5.42" lengthAdjust="spacingAndGlyphs" fill="#002456">)</text>
</g>
<defs><linearGradient id="jet" x1="0" x2="1" y1="0" y2="0"><stop offset="0.0000" stop-color="#000080"/><stop offset="0.0156" stop-color="#000092"/><stop offset="0.0312" stop-color="#0000a4"/><stop offset="0.0469" stop-color="#0000b6"/><stop offset="0.0625" stop-color="#0000c8"/><stop offset="0.0781" stop-color="#0000da"/><stop offset="0.0938" stop-color="#0000ec"/><stop offset="0.1094" stop-color="#0000fe"/><stop offset="0.1250" stop-color="#0000ff"/><stop offset="0.1406" stop-color="#0010ff"/><stop offset="0.1562" stop-color="#0020ff"/><stop offset="0.1719" stop-color="#0030ff"/><stop offset="0.1875" stop-color="#0040ff"/><stop offset="0.2031" stop-color="#0050ff"/><stop offset="0.2188" stop-color="#0060ff"/><stop offset="0.2344" stop-color="#0070ff"/><stop offset="0.2500" stop-color="#0080ff"/><stop offset="0.2656" stop-color="#008fff"/><stop offset="0.2812" stop-color="#009fff"/><stop offset="0.2969" stop-color="#00afff"/><stop offset="0.3125" stop-color="#00bfff"/><stop offset="0.3281" stop-color="#00cfff"/><stop offset="0.3438" stop-color="#00dffc"/><stop offset="0.3594" stop-color="#08efef"/><stop offset="0.3750" stop-color="#15ffe2"/><stop offset="0.3906" stop-color="#21ffd5"/><stop offset="0.4062" stop-color="#2effc9"/><stop offset="0.4219" stop-color="#3bffbc"/><stop offset="0.4375" stop-color="#48ffaf"/><stop offset="0.4531" stop-color="#55ffa2"/><stop offset="0.4688" stop-color="#62ff95"/><stop offset="0.4844" stop-color="#6fff88"/><stop offset="0.5000" stop-color="#7bff7b"/><stop offset="0.5156" stop-color="#88ff6f"/><stop offset="0.5312" stop-color="#95ff62"/><stop offset="0.5469" stop-color="#a2ff55"/><stop offset="0.5625" stop-color="#afff48"/><stop offset="0.5781" stop-color="#bcff3b"/><stop offset="0.5938" stop-color="#c9ff2e"/><stop offset="0.6094" stop-color="#d5ff21"/><stop offset="0.6250" stop-color="#e2ff15"/><stop offset="0.6406" stop-color="#effe08"/><stop offset="0.6562" stop-color="#fcf000"/><stop offset="0.6719" stop-color="#ffe100"/><stop offset="0.6875" stop-color="#ffd200"/><stop offset="0.7031" stop-color="#ffc300"/><stop offset="0.7188" stop-color="#ffb500"/><stop offset="0.7344" stop-color="#ffa600"/><stop offset="0.7500" stop-color="#ff9700"/><stop offset="0.7656" stop-color="#ff8800"/><stop offset="0.7812" stop-color="#ff7a00"/><stop offset="0.7969" stop-color="#ff6b00"/><stop offset="0.8125" stop-color="#ff5c00"/><stop offset="0.8281" stop-color="#ff4d00"/><stop offset="0.8438" stop-color="#ff3f00"/><stop offset="0.8594" stop-color="#ff3000"/><stop offset="0.8750" stop-color="#ff2100"/><stop offset="0.8906" stop-color="#fe1200"/><stop offset="0.9062" stop-color="#ec0400"/><stop offset="0.9219" stop-color="#da0000"/><stop offset="0.9375" stop-color="#c80000"/><stop offset="0.9531" stop-color="#b60000"/><stop offset="0.9688" stop-color="#a40000"/><stop offset="0.9844" stop-color="#920000"/><stop offset="1.0000" stop-color="#800000"/></linearGradient></defs>
<rect x="658.0" y="312.2" width="270.70" height="13.30" fill="url(#jet)" stroke="#002456" stroke-width="1.1"/>
<line x1="658.00" x2="658.00" y1="325.5" y2="330.36" stroke="#002456" stroke-width="1.1"/>
<text x="653.58" y="346.20" font-size="14.44" textLength="8.84" lengthAdjust="spacingAndGlyphs" fill="#002456">0</text>
<line x1="712.14" x2="712.14" y1="325.5" y2="330.36" stroke="#002456" stroke-width="1.1"/>
<text x="707.72" y="346.20" font-size="14.44" textLength="8.84" lengthAdjust="spacingAndGlyphs" fill="#002456">2</text>
<line x1="766.28" x2="766.28" y1="325.5" y2="330.36" stroke="#002456" stroke-width="1.1"/>
<text x="761.86" y="346.20" font-size="14.44" textLength="8.84" lengthAdjust="spacingAndGlyphs" fill="#002456">4</text>
<line x1="820.42" x2="820.42" y1="325.5" y2="330.36" stroke="#002456" stroke-width="1.1"/>
<text x="816.00" y="346.20" font-size="14.44" textLength="8.84" lengthAdjust="spacingAndGlyphs" fill="#002456">6</text>
<line x1="874.56" x2="874.56" y1="325.5" y2="330.36" stroke="#002456" stroke-width="1.1"/>
<text x="870.14" y="346.20" font-size="14.44" textLength="8.84" lengthAdjust="spacingAndGlyphs" fill="#002456">8</text>
<line x1="928.70" x2="928.70" y1="325.5" y2="330.36" stroke="#002456" stroke-width="1.1"/>
<text x="919.86" y="346.20" font-size="14.44" textLength="17.67" lengthAdjust="spacingAndGlyphs" fill="#002456">10</text>
<text y="365.50" font-size="14.44" fill="#002456"><tspan x="735.14" textLength="45.91" lengthAdjust="spacingAndGlyphs">Height</tspan> <tspan x="785.47" textLength="26.99" lengthAdjust="spacingAndGlyphs">(km</tspan> <tspan x="816.88" textLength="33.18" lengthAdjust="spacingAndGlyphs">AGL)</tspan></text>
</svg></body></html>
